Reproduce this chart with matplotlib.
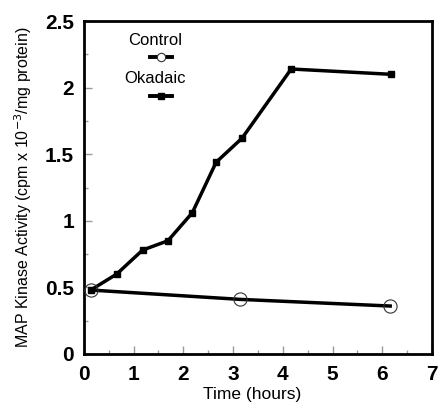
import matplotlib
matplotlib.use("Agg")
import matplotlib.pyplot as plt
from matplotlib.lines import Line2D
from matplotlib.ticker import MultipleLocator

plt.rcParams['font.family'] = ['Liberation Sans', 'DejaVu Sans']

okadaic_t = [0.14, 0.66, 1.18, 1.69, 2.18, 2.66, 3.18, 4.17, 6.18]
okadaic_v = [0.48, 0.60, 0.78, 0.85, 1.06, 1.44, 1.62, 2.14, 2.10]
control_t = [0.14, 3.14, 6.16]
control_v = [0.48, 0.41, 0.36]

fig = plt.figure(figsize=(4.39, 4.05), dpi=100)
ax = fig.add_axes([0.191, 0.126, 0.793, 0.822])

ax.plot(okadaic_t, okadaic_v, color='black', lw=2.5, marker='s', ms=4.5,
        mfc='black', mec='black', zorder=3)
ax.plot(control_t, control_v, color='black', lw=2.5, marker='o', ms=9.5,
        mfc='none', mec='#333333', mew=0.8, zorder=3)

ax.set_xlim(0, 7)
ax.set_ylim(0, 2.5)
ax.xaxis.set_major_locator(MultipleLocator(1))
ax.xaxis.set_minor_locator(MultipleLocator(0.5))
ax.yaxis.set_minor_locator(MultipleLocator(0.25))
ax.set_yticks([0, 0.5, 1, 1.5, 2, 2.5])
ax.set_yticklabels(['0', '0.5', '1', '1.5', '2', '2.5'])
ax.tick_params(which='both', direction='in', top=False, right=False,
               width=1, color='#999999')
ax.tick_params(which='major', length=6, labelsize=15)
ax.tick_params(axis='x', which='major', pad=8)
ax.tick_params(axis='y', which='major', pad=7)
ax.tick_params(which='minor', length=3)
for lab in ax.get_xticklabels() + ax.get_yticklabels():
    lab.set_fontweight('bold')
for s in ax.spines.values():
    s.set_linewidth(2)

ax.set_xlabel('Time (hours)', fontsize=12.5)
ax.xaxis.set_label_coords(0.483, -0.1)
ax.set_ylabel('MAP Kinase Activity (cpm x 10$^{-3}$/mg protein)', fontsize=11.5, labelpad=8)

# legend
tx = 0.205
hx = 0.222
hw = 0.031
ax.text(tx, 0.943, 'Control', transform=ax.transAxes, ha='center', va='center', fontsize=12)
ax.add_line(Line2D([hx - hw, hx + hw], [0.891, 0.891], transform=ax.transAxes,
                   color='black', lw=2.8))
ax.add_line(Line2D([hx], [0.891], transform=ax.transAxes, marker='o', ms=6,
                   mfc='white', mec='#333333', mew=0.8, ls='none'))
ax.text(tx, 0.828, 'Okadaic', transform=ax.transAxes, ha='center', va='center', fontsize=12)
ax.add_line(Line2D([hx - hw, hx + hw], [0.775, 0.775], transform=ax.transAxes,
                   color='black', lw=2.8))
ax.add_line(Line2D([hx], [0.775], transform=ax.transAxes, marker='s', ms=4.5,
                   mfc='black', mec='black', ls='none'))

fig.savefig('out.png', dpi=100)
